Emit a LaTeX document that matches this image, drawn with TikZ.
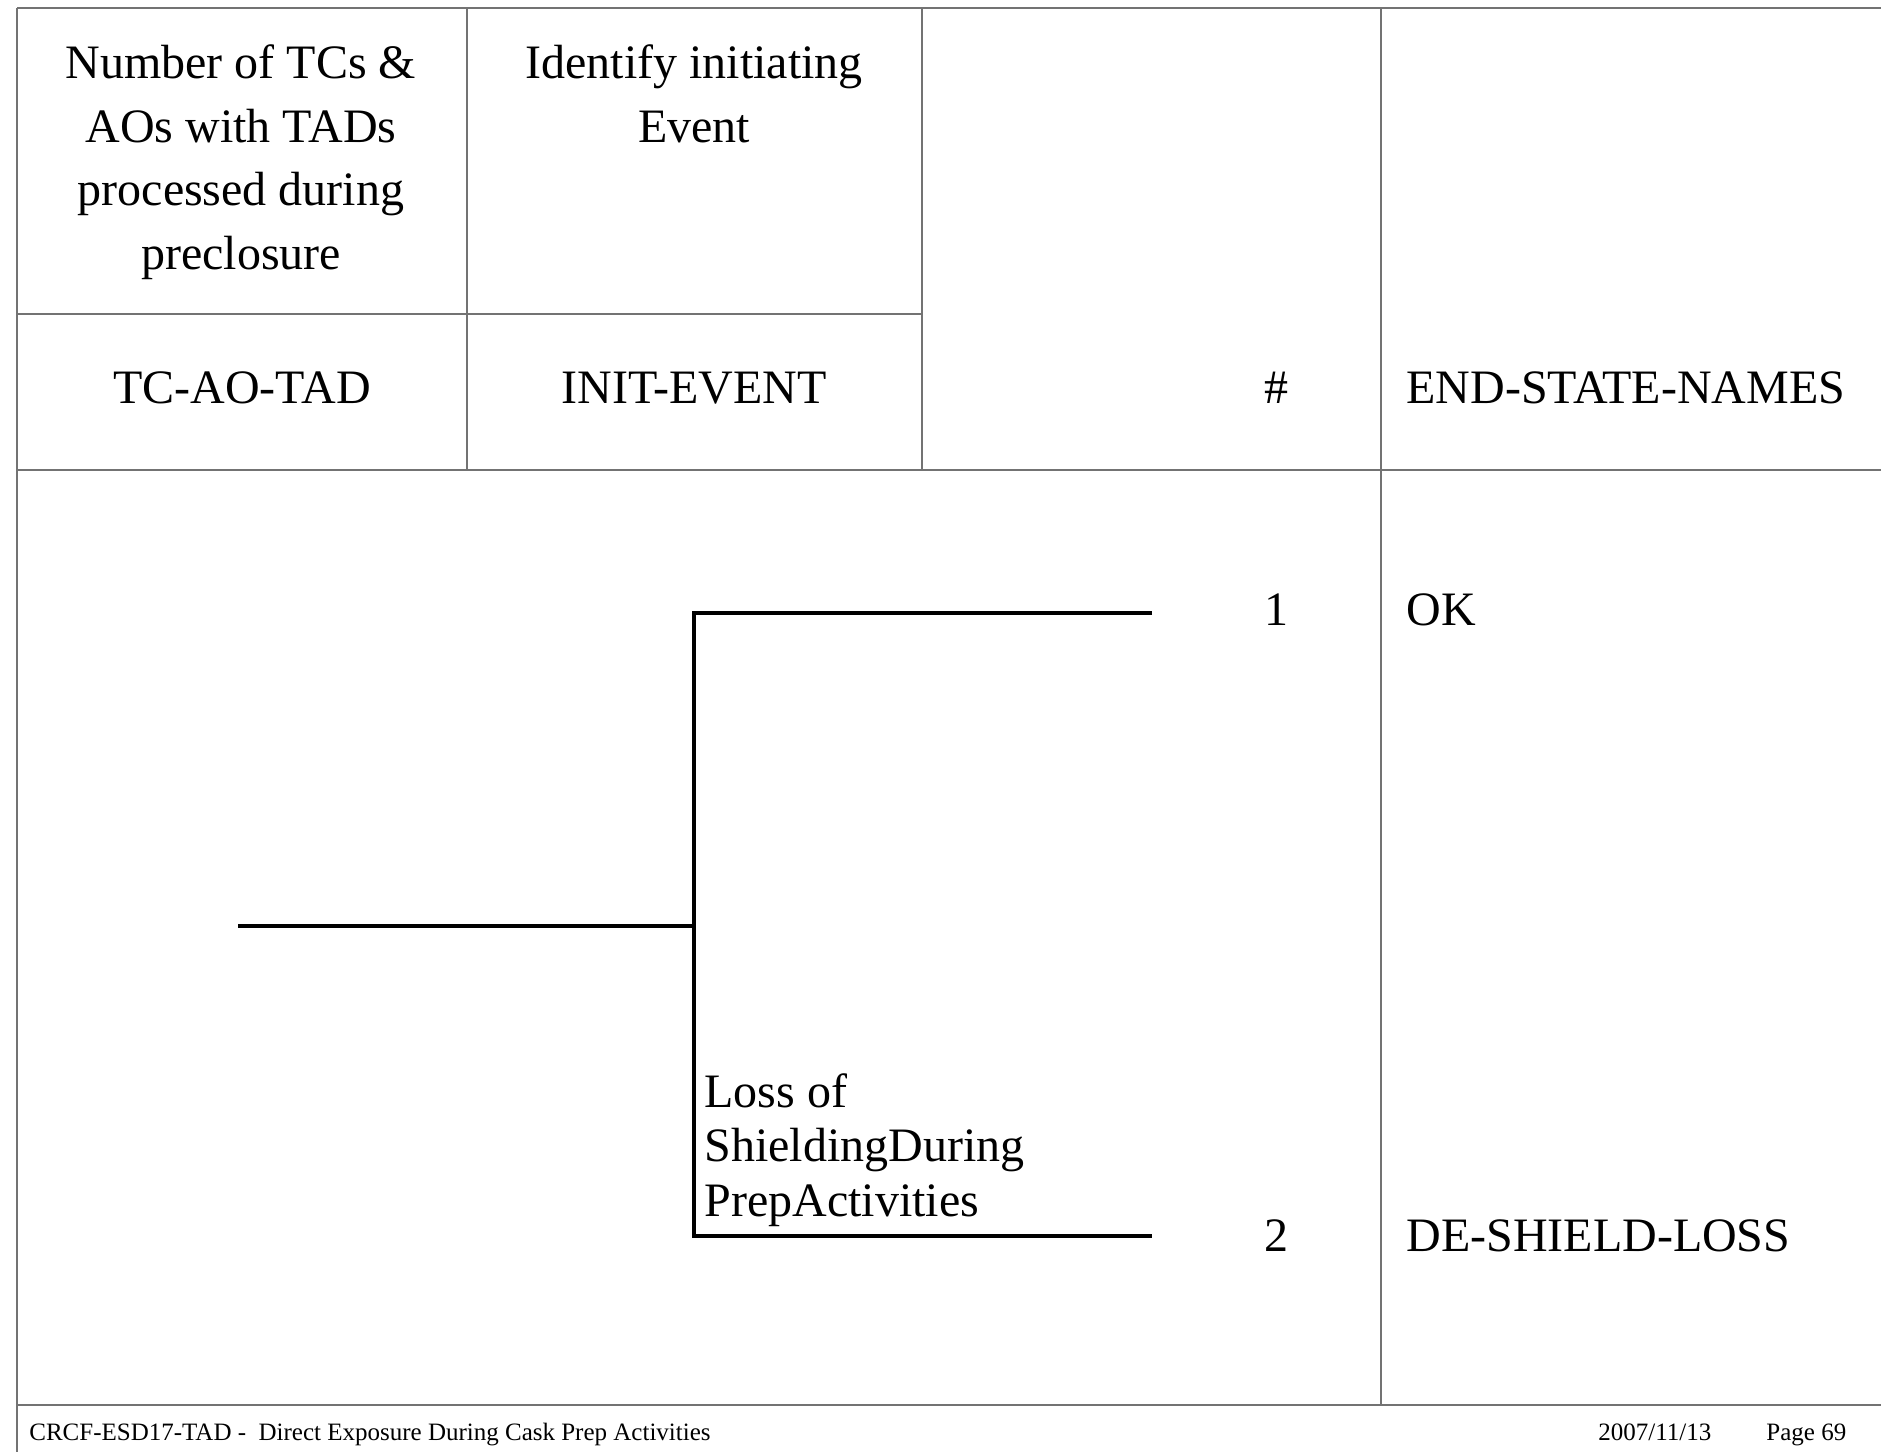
\documentclass[tikz,border=0pt]{standalone}
\usepackage{fontspec}
\setmainfont{Liberation Serif}
\usetikzlibrary{positioning}

\begin{document}
\begin{tikzpicture}[
  x=0.5pt, y=-0.5pt,
  grid/.style={draw=black!55, line width=0.75pt},
  branch/.style={draw=black, line width=2pt, line join=miter},
  head/.style={font=\fontsize{24}{31.9}\selectfont, align=center, inner sep=0pt},
  lbl/.style={font=\fontsize{24}{27.3}\selectfont, inner sep=0pt},
  foot/.style={font=\fontsize{12.5}{15}\selectfont, inner sep=0pt}
]
\useasboundingbox (0,0) rectangle (1881,1452);

% table frame
\draw[grid] (17,8) -- (1881,8);
\draw[grid] (17,8) -- (17,1452);
\draw[grid] (17,314) -- (922,314);
\draw[grid] (17,470) -- (1881,470);
\draw[grid] (17,1405) -- (1881,1405);
\draw[grid] (467,8) -- (467,470);
\draw[grid] (922,8) -- (922,470);
\draw[grid] (1381,8) -- (1381,1405);

% headers
\node[head, anchor=north] (tchead) at (241,44) {Number of TCs \&\\AOs with TADs\\processed during\\preclosure};
\node[head, anchor=north] (iehead) at (694,44) {Identify initiating\\Event};
\node[head] (tc) at (242,388) {TC-AO-TAD};
\node[head] (ie) at (694,388) {INIT-EVENT};
\node[head] (num) at (1276,388) {\#};
\node[head, anchor=west] (es) at (1406,388) {END-STATE-NAMES};

% event tree
\coordinate (root) at (238,926);
\coordinate (fork) at (694,926);
\coordinate (up) at (694,613);
\coordinate (dn) at (694,1236);
\coordinate (okend) at (1152,613);
\coordinate (lossend) at (1152,1236);
\draw[branch] (root) -- (fork);
\draw[branch] (okend) -- (up) -- (dn) -- (lossend);

\node[lbl, anchor=south west, align=left] (loss) at (704,1227) {Loss of\\ShieldingDuring\\PrepActivities};

% sequences and end states
\node[lbl] (seq1) at (1276,610) {1};
\node[lbl, anchor=west] (ok) at (1406,610) {OK};
\node[lbl] (seq2) at (1276,1236) {2};
\node[lbl, anchor=west] (deloss) at (1406,1236) {DE-SHIELD-LOSS};

% footer
\node[foot, anchor=base west] (title) at (29,1440) {CRCF-ESD17-TAD -\ \ Direct Exposure During Cask Prep Activities};
\node[foot, anchor=base west] (date) at (1598,1440) {2007/11/13};
\node[foot, anchor=base west] (page) at (1766,1440) {Page 69};
\end{tikzpicture}
\end{document}
